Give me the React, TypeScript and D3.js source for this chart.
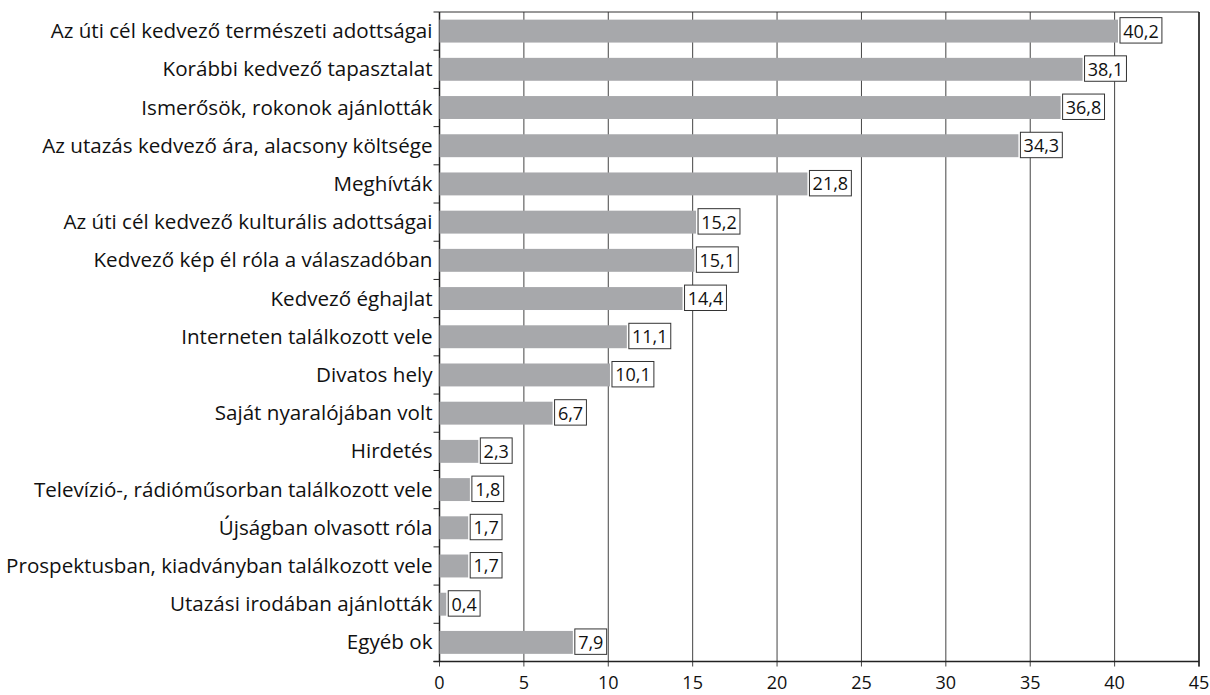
import React from "react";
import * as d3 from "d3";

const categories = [
  "Az úti cél kedvező természeti adottságai",
  "Korábbi kedvező tapasztalat",
  "Ismerősök, rokonok ajánlották",
  "Az utazás kedvező ára, alacsony költsége",
  "Meghívták",
  "Az úti cél kedvező kulturális adottságai",
  "Kedvező kép él róla a válaszadóban",
  "Kedvező éghajlat",
  "Interneten találkozott vele",
  "Divatos hely",
  "Saját nyaralójában volt",
  "Hirdetés",
  "Televízió-, rádióműsorban találkozott vele",
  "Újságban olvasott róla",
  "Prospektusban, kiadványban találkozott vele",
  "Utazási irodában ajánlották",
  "Egyéb ok",
];
const values = [40.2, 38.1, 36.8, 34.3, 21.8, 15.2, 15.1, 14.4, 11.1, 10.1, 6.7, 2.3, 1.8, 1.7, 1.7, 0.4, 7.9];
const xTicks = [0, 5, 10, 15, 20, 25, 30, 35, 40, 45];

const W = 1210, H = 695;
const left = 439.5, right = 1199, top = 12, bottom = 661.5;
const FONT = "'Open Sans', sans-serif";
const NUM = 18;

export default function App() {
  const x = d3.scaleLinear().domain([0, 45]).range([left, right]);
  const y = d3.scaleBand<string>().domain(categories).range([top, bottom]).paddingInner(0.4).paddingOuter(0.2);
  const step = y.step();
  const fmt = (v: number) => v.toFixed(1).replace(".", ",");
  const boundaries = d3.range(categories.length + 1).map((i) => top + i * step);
  const digitW = 0.56 * NUM, commaW = 0.26 * NUM;
  return (
    <svg width={W} height={H} style={{ position: "absolute", left: 0, top: 0, background: "#fff" }}>
      <rect x={0} y={0} width={W} height={H} fill="#fff" />
      {xTicks.map((t) => (
        <g key={t}>
          <line x1={x(t)} x2={x(t)} y1={top} y2={bottom + 5} stroke="#444" strokeWidth={1} />
          <text x={x(t)} y={689} textAnchor="middle" fontFamily={FONT} fontSize={NUM} fill="#111">{t}</text>
        </g>
      ))}
      <line x1={left} x2={right} y1={top} y2={top} stroke="#333" strokeWidth={1} />
      <line x1={right} x2={right} y1={top} y2={bottom + 5} stroke="#222" strokeWidth={1.5} />
      <line x1={left - 6} x2={right} y1={bottom} y2={bottom} stroke="#222" strokeWidth={1.5} />
      <line x1={left} x2={left} y1={top} y2={bottom} stroke="#222" strokeWidth={1.5} />
      {boundaries.map((b, i) => (
        <line key={i} x1={left - 6} x2={left} y1={b} y2={b} stroke="#222" strokeWidth={1} />
      ))}
      {categories.map((c, i) => {
        const yy = y(c)!;
        const bw = y.bandwidth();
        const xe = x(values[i]);
        const label = fmt(values[i]);
        const nd = label.replace(",", "").length;
        const boxW = nd * digitW + commaW + 7;
        return (
          <g key={c}>
            <rect x={left} y={yy} width={xe - left} height={bw} fill="#a7a8ab" />
            <text x={left - 7} y={yy + bw / 2 + 7} textAnchor="end" fontFamily={FONT} fontSize={20.6} fill="#111">{c}</text>
            <rect x={xe + 2} y={yy - 2} width={boxW} height={bw + 2.5} fill="#fff" stroke="#333" strokeWidth={1} />
            <text x={xe + 2 + boxW / 2} y={yy + bw / 2 + 6.5} textAnchor="middle" fontFamily={FONT} fontSize={NUM} fill="#111">{label}</text>
          </g>
        );
      })}
    </svg>
  );
}
